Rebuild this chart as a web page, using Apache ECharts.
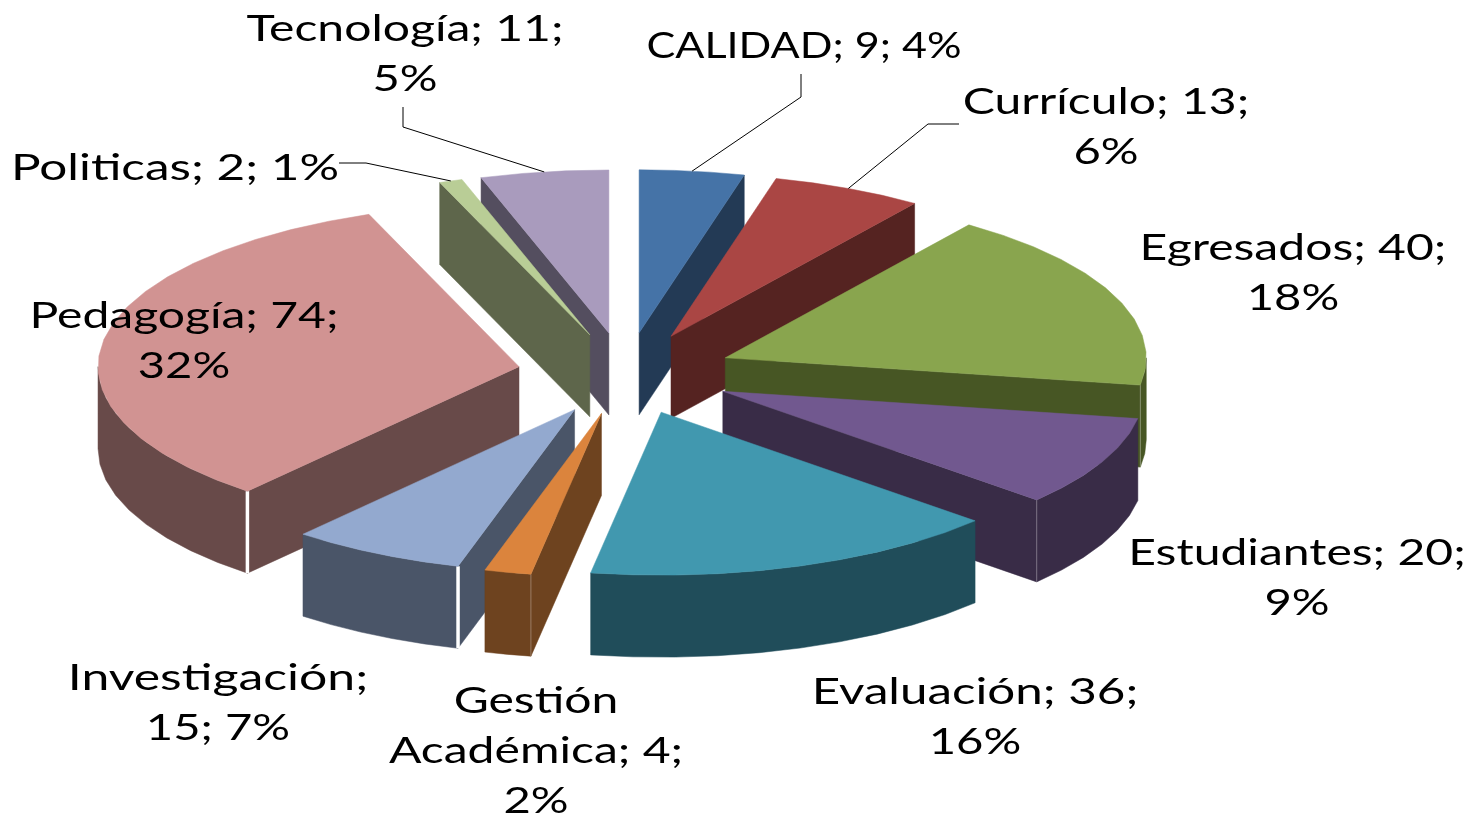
<!DOCTYPE html>
<html>
<head>
<meta charset="utf-8">
<style>html,body{margin:0;padding:0;background:#fff}#c{width:1472px;height:815px}</style>
<script src="https://cdn.jsdelivr.net/npm/echarts@6/dist/echarts.min.js"></script>
</head>
<body>
<div id="c"></div>
<script>
// ---- data ----
const categories = ['CALIDAD','Currículo','Egresados','Estudiantes','Evaluación','Gestión Académica','Investigación','Pedagogía','Politicas','Tecnología'];
const values = [9,13,40,20,36,4,15,74,2,11];
const percents = [4,6,18,9,16,2,7,32,1,5];

// ---- styles ----
const topColors  = ['#4573A7','#AA4644','#89A54E','#71588F','#4198AF','#DB843D','#93A9CF','#D19392','#B9CD96','#A99BBD'];
const wallColors = ['#233A55','#552321','#475624','#392C47','#204D5A','#6E431F','#4A5568','#684A49','#5E664B','#544E5F'];
const paintOrder = [0,9,8,1,2,7,3,6,5,4];
const whiteCorner = [6,7];

// ---- 3D pie geometry (pixels) ----
const CX = 625.5, CY = 373.5, RX = 421, RY = 163, DEPTH = 82, EX = 108, EY = 41, ARC_STEP = 6;

// ---- label layout: centre x, first line y, line breaks, leader elbows ----
const labelLines = [
  ['{n}; {v}; {p}%'],
  ['{n}; {v};','{p}%'],
  ['{n}; {v};','{p}%'],
  ['{n}; {v};','{p}%'],
  ['{n}; {v};','{p}%'],
  ['Gestión','Académica; {v};','{p}%'],
  ['{n};','{v}; {p}%'],
  ['{n}; {v};','{p}%'],
  ['{n}; {v}; {p}%'],
  ['{n}; {v};','{p}%']
];
const labelX = [804,1106,1293,1297,975,536,218,184,175,405];
const labelY = [46,102,248,553,692,701,678,316,168,29];
const firstLineStretch = [1.197,1.335,1.335,1.335,1.369,1.335,1.386,1.335,1.373,1.335];
const leaderPaths = [
  [[801,97],[801,74]],
  [[928,124],[959,124]],
  null,null,null,null,null,null,
  [[366,163],[339,163]],
  [[403,127],[403,107]]
];
const LINE_H = 50, FONT_SIZE = 36, TEXT_STRETCH = 1.31;

// ---- derived angles ----
const total = values.reduce((a,b)=>a+b,0);
const startAngles = [], endAngles = [];
values.reduce((acc,v,i)=>{ startAngles[i]=acc/total*360; endAngles[i]=(acc+v)/total*360; return acc+v; },0);
const rad = d => d*Math.PI/180;
function tip(i){
  const m = rad((startAngles[i]+endAngles[i])/2);
  return [CX+EX*Math.sin(m), CY-EY*Math.cos(m)];
}
function rim(t,d,dy){
  return [t[0]+RX*Math.sin(rad(d)), t[1]-RY*Math.cos(rad(d))+(dy||0)];
}
function arc(t,a,b,dy){
  const pts=[], n=Math.max(2,Math.ceil((b-a)/ARC_STEP));
  for(let k=0;k<=n;k++) pts.push(rim(t,a+(b-a)*k/n,dy));
  return pts;
}
function renderSlice(params,api){
  const i = api.value(0), t = tip(i), s = startAngles[i], e = endAngles[i];
  const children = [];
  const poly = (pts,fill) => children.push({type:'polygon',shape:{points:pts},style:{fill,stroke:fill,lineWidth:0.5}});
  // radial walls facing the viewer
  const wall = d => {
    const p = rim(t,d);
    poly([t,p,[p[0],p[1]+DEPTH],[t[0],t[1]+DEPTH]],wallColors[i]);
  };
  if(Math.sin(rad(s))<0) wall(s);
  if(Math.sin(rad(e))>0) wall(e);
  // outer wall on the front half
  const a = Math.max(s,90), b = Math.min(e,270);
  if(b>a) poly(arc(t,a,b,0).concat(arc(t,a,b,DEPTH).reverse()),wallColors[i]);
  // corner edge between outer and radial wall
  let corner = null;
  if(s>90 && s<270 && Math.sin(rad(s))<0) corner = s;
  if(e>90 && e<270 && Math.sin(rad(e))>0) corner = e;
  if(corner!==null){
    const p = rim(t,corner), w = whiteCorner.includes(i);
    children.push({type:'line',shape:{x1:p[0],y1:p[1],x2:p[0],y2:p[1]+DEPTH},
      style:{stroke:w?'#ffffff':'rgba(255,255,255,0.3)',lineWidth:w?3.5:1}});
  }
  // top face
  poly([t].concat(arc(t,s,e)),topColors[i]);
  return {type:'group',children};
}
function renderLabel(params,api){
  const i = api.value(0), children = [];
  const lines = labelLines[i];
  lines.forEach((tpl,k)=>{
    const text = tpl.replace('{n}',categories[i]).replace('{v}',values[i]).replace('{p}',percents[i]);
    const sx = k===0 ? firstLineStretch[i] : (k===1 && lines.length===3 ? 1.335 : TEXT_STRETCH);
    children.push({type:'text',x:labelX[i],y:labelY[i]+k*LINE_H,scaleX:sx,
      style:{x:0,y:0,text,fill:'#000',font:FONT_SIZE+'px Lato',textAlign:'center',textVerticalAlign:'middle'}});
  });
  if(leaderPaths[i]){
    const m=(startAngles[i]+endAngles[i])/2;
    children.push({type:'polyline',shape:{points:[rim(tip(i),m)].concat(leaderPaths[i])},
      style:{stroke:'#000',lineWidth:1,fill:null}});
  }
  return {type:'group',children};
}
const chart = echarts.init(document.getElementById('c'),null,{renderer:'canvas'});
chart.setOption({
  backgroundColor:'#ffffff',
  animation:false,
  tooltip:{show:false},
  series:[
    {type:'custom',coordinateSystem:'none',z:2,silent:true,renderItem:renderSlice,
      data:paintOrder.map(i=>[i,values[i]])},
    {type:'custom',coordinateSystem:'none',z:3,silent:true,renderItem:renderLabel,
      data:categories.map((c,i)=>[i,values[i]])}
  ]
});
</script>
</body>
</html>
